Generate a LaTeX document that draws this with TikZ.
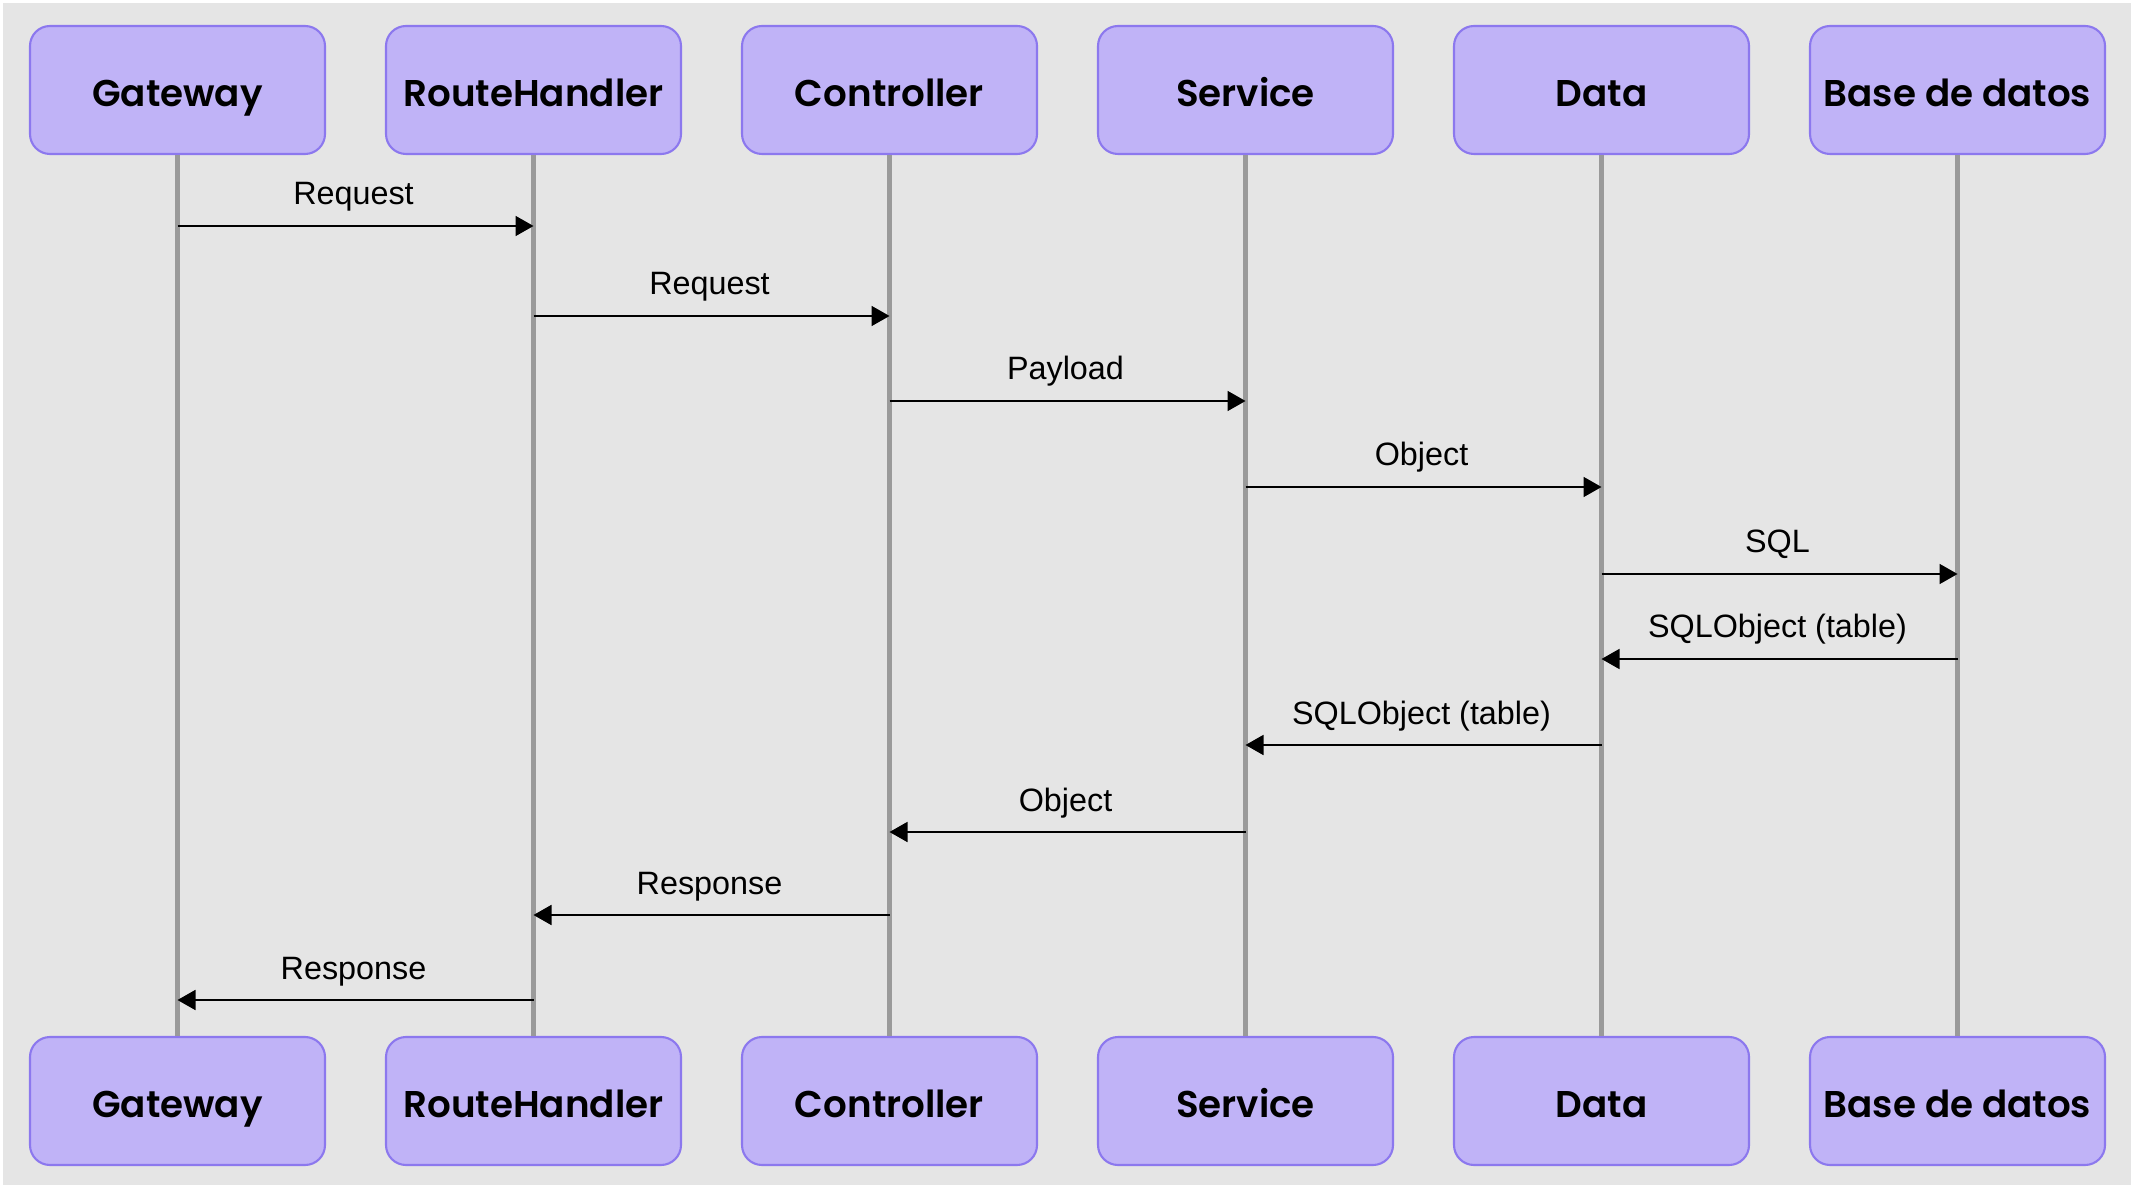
\documentclass[tikz,border=0pt]{standalone}
\usepackage{fontspec}
\setmainfont{Liberation Sans}
\newfontfamily\boxfont{Poppins}[BoldFont={Poppins SemiBold}]
\usetikzlibrary{arrows.meta}
\definecolor{boxfill}{HTML}{C0B3F7}
\definecolor{boxline}{HTML}{8C78EE}
\definecolor{lifegray}{HTML}{9A9A9A}
\definecolor{bggray}{HTML}{E5E5E5}
\tikzset{
	actor/.style={draw=boxline, fill=boxfill, line width=0.6pt, rounded corners=0.2cm,
		minimum width=2.95cm, minimum height=1.28cm, inner sep=0pt,
		text height=0.95em, text depth=0pt,
		font=\boxfont\bfseries\fontsize{10.6}{12}\selectfont},
	life/.style={draw=lifegray, line width=1.5pt},
	msg/.style={line width=0.5pt, -{Triangle[length=0.18cm,width=0.2cm]}},
	msglabel/.style={anchor=base, inner sep=0pt, yshift=0.21cm, xshift=-0.02cm, font=\fontsize{9.2}{11}\selectfont}
}
\begin{document}
\begin{tikzpicture}
			%%%%% START %%%%%
			
			\useasboundingbox (0, 0) rectangle (21.34, -11.90);
			\fill[bggray] (0.03, -0.03) rectangle (21.31, -11.85);
			
			\node[actor] (gwTop) at (1.775, -0.90) {Gateway};
			\node[actor] (rhTop) at (5.335, -0.90) {RouteHandler};
			\node[actor] (ctTop) at (8.895, -0.90) {Controller};
			\node[actor] (svTop) at (12.455, -0.90) {Service};
			\node[actor] (dtTop) at (16.015, -0.90) {Data};
			\node[actor] (dbTop) at (19.575, -0.90) {Base de datos};
			
			\node[actor] (gwBot) at (1.775, -11.01) {Gateway};
			\node[actor] (rhBot) at (5.335, -11.01) {RouteHandler};
			\node[actor] (ctBot) at (8.895, -11.01) {Controller};
			\node[actor] (svBot) at (12.455, -11.01) {Service};
			\node[actor] (dtBot) at (16.015, -11.01) {Data};
			\node[actor] (dbBot) at (19.575, -11.01) {Base de datos};
			
			\draw[life] (gwTop) -- (gwBot);
			\draw[life] (rhTop) -- (rhBot);
			\draw[life] (ctTop) -- (ctBot);
			\draw[life] (svTop) -- (svBot);
			\draw[life] (dtTop) -- (dtBot);
			\draw[life] (dbTop) -- (dbBot);
			
			% calls going down the stack
			\draw[msg] (gwTop |- 0, -2.26) -- (rhTop |- 0, -2.26) node[msglabel, midway] {Request};
			\draw[msg] (rhTop |- 0, -3.16) -- (ctTop |- 0, -3.16) node[msglabel, midway] {Request};
			\draw[msg] (ctTop |- 0, -4.01) -- (svTop |- 0, -4.01) node[msglabel, midway] {Payload};
			\draw[msg] (svTop |- 0, -4.87) -- (dtTop |- 0, -4.87) node[msglabel, midway] {Object};
			\draw[msg] (dtTop |- 0, -5.74) -- (dbTop |- 0, -5.74) node[msglabel, midway] {SQL};
			
			% answers going back up
			\draw[msg] (dbTop |- 0, -6.59) -- (dtTop |- 0, -6.59) node[msglabel, midway] {SQLObject (table)};
			\draw[msg] (dtTop |- 0, -7.45) -- (svTop |- 0, -7.45) node[msglabel, midway] {SQLObject (table)};
			\draw[msg] (svTop |- 0, -8.32) -- (ctTop |- 0, -8.32) node[msglabel, midway] {Object};
			\draw[msg] (ctTop |- 0, -9.15) -- (rhTop |- 0, -9.15) node[msglabel, midway] {Response};
			\draw[msg] (rhTop |- 0, -10.00) -- (gwTop |- 0, -10.00) node[msglabel, midway] {Response};
			
			%%%%% END %%%%%
\end{tikzpicture}
\end{document}
